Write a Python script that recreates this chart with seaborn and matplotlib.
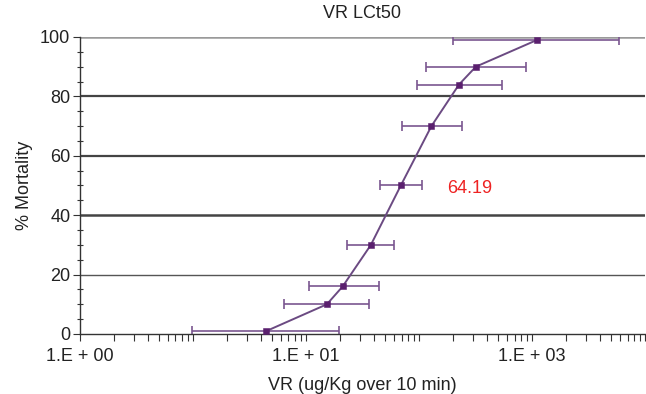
import numpy as np
import pandas as pd
import matplotlib
matplotlib.use("Agg")
import matplotlib.pyplot as plt
import seaborn as sns
from matplotlib.ticker import FixedLocator, LogLocator, NullFormatter, MultipleLocator

# Data (x in the axis' log units)
mortality = [1, 10, 16, 30, 50, 70, 84, 90, 99]
dose = [44.6, 153, 211, 375, 690, 1288, 2260, 3184, 11070]
dose_low = [9.76, 63.7, 106, 231, 449, 704, 952, 1146, 2000]
dose_high = [195, 360, 440, 602, 1064, 2388, 5430, 8890, 58500]
x_tick_values = [1, 100, 10000]
x_tick_labels = ["1.E + 00", "1.E + 01", "1.E + 03"]
y_tick_values = [0, 20, 40, 60, 80, 100]
lc50_label = "64.19"

df = pd.DataFrame({"dose": dose, "mortality": mortality})

sns.set_theme(style="white")
plt.rcParams["font.family"] = ["Liberation Sans", "DejaVu Sans"]

FS = 13
fig = plt.figure(figsize=(6.46, 3.94), dpi=100)
ax = fig.add_axes([0.1238, 0.1523, 0.8747, 0.7538])

# grid lines
for yv, lw, col in [(20, 1.0, "#555555"), (40, 1.8, "#444444"), (60, 1.6, "#444444"),
                    (80, 1.6, "#444444"), (100, 1.8, "#9a9a9a")]:
    ax.axhline(yv, color=col, lw=lw, zorder=1)

xerr = np.array([np.array(dose) - np.array(dose_low), np.array(dose_high) - np.array(dose)])
ax.errorbar(dose, mortality, xerr=xerr, fmt="none", ecolor="#7a5690", elinewidth=1.2,
            capsize=3.5, capthick=1.2, zorder=2)
sns.lineplot(data=df, x="dose", y="mortality", ax=ax, color="#6b4a82", lw=1.4,
             sort=False, zorder=3)
sns.scatterplot(data=df, x="dose", y="mortality", ax=ax, color="#5a1f6e", marker="s",
                s=22, edgecolor="#5a1f6e", zorder=4, clip_on=False)

ax.set_xscale("log")
ax.set_xlim(1, 1e5)
ax.set_ylim(0, 100)

ax.xaxis.set_major_locator(FixedLocator(x_tick_values))
ax.set_xticklabels(x_tick_labels)
ax.xaxis.set_minor_locator(LogLocator(base=10, subs=np.arange(1, 10), numticks=20))
ax.xaxis.set_minor_formatter(NullFormatter())
ax.set_yticks(y_tick_values)
ax.yaxis.set_minor_locator(MultipleLocator(5))

ax.tick_params(axis="x", which="both", direction="out", length=5, width=0.8,
               colors="#333333", labelsize=FS, labelcolor="#222222", bottom=True, pad=5)
ax.tick_params(axis="y", which="major", direction="out", length=5, width=0.8,
               colors="#333333", labelsize=FS, labelcolor="#222222", left=True, pad=2)
ax.tick_params(axis="y", which="minor", direction="inout", length=4, width=0.8,
               colors="#333333", left=True)

for side in ["top", "right"]:
    ax.spines[side].set_visible(False)
for side in ["left", "bottom"]:
    ax.spines[side].set_color("#333333")
    ax.spines[side].set_linewidth(1.0)

ax.set_xlabel("VR (ug/Kg over 10 min)", fontsize=FS, color="#222222", labelpad=9)
ax.set_ylabel("% Mortality", fontsize=FS, color="#222222", labelpad=5)
fig.text(0.561, 1 - 13 / 394, "VR LCt50", fontsize=FS, color="#222222",
         ha="center", va="center")

ax.text(0.69, 0.49, lc50_label, transform=ax.transAxes, color="#ee2222", fontsize=FS,
        va="center", ha="center")

fig.savefig("out.png", dpi=100)
